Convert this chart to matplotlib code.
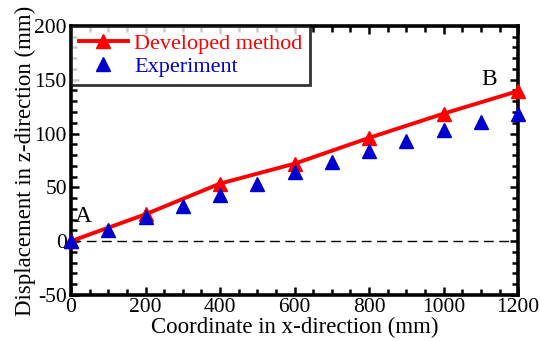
import matplotlib
matplotlib.use("Agg")
import matplotlib.pyplot as plt
from matplotlib.ticker import MultipleLocator

plt.rcParams['font.family'] = ['Liberation Serif', 'DejaVu Serif']
plt.rcParams['axes.unicode_minus'] = False

dev_x = [0, 200, 400, 600, 800, 1000, 1200]
dev_y = [0, 25, 53.5, 72, 96, 118.5, 139.5]
exp_x = [0, 100, 200, 300, 400, 500, 600, 700, 800, 900, 1000, 1100, 1200]
exp_y = [0, 10, 22.5, 33, 42.5, 53.5, 64.5, 73.5, 83.5, 93.5, 103, 111, 118.5]

fig = plt.figure(figsize=(5.4, 3.41), dpi=100)
ax = fig.add_axes([0.1315, 0.135, 0.828, 0.789])

ax.axhline(0, color='black', lw=1.0, ls=(0, (7, 4)), zorder=1)
ax.plot(dev_x, dev_y, color='#ff0000', lw=2.8, marker='^', ms=10,
        label='Developed method', zorder=3, clip_on=False)
ax.plot(exp_x, exp_y, ls='none', color='#0000cc', marker='^', ms=10,
        label='Experiment', zorder=4, clip_on=False)

ax.set_xlim(0, 1200)
ax.set_ylim(-50, 200)
ax.xaxis.set_major_locator(MultipleLocator(200))
ax.xaxis.set_minor_locator(MultipleLocator(50))
ax.yaxis.set_major_locator(MultipleLocator(50))
ax.yaxis.set_minor_locator(MultipleLocator(10))
ax.tick_params(which='both', direction='in', top=True, right=True, width=1.8,
               labelsize=15.5)
ax.tick_params(axis='x', pad=2)
ax.tick_params(axis='y', pad=3)
ax.tick_params(which='major', length=6)
ax.tick_params(which='minor', length=4)
for s in ax.spines.values():
    s.set_linewidth(2.6)

ax.set_xlabel('Coordinate in x-direction (mm)', fontsize=16.5, labelpad=0)
ax.set_ylabel('Displacement in z-direction (mm)', fontsize=16.5, labelpad=-1)

ax.text(32, 23, 'A', fontsize=17, ha='center', va='center')
ax.text(1122, 150, 'B', fontsize=17, ha='center', va='center')

leg = ax.legend(loc='upper left', fontsize=16, frameon=True, fancybox=False,
                edgecolor='black', handlelength=2.2, borderpad=0.35,
                labelspacing=0.1, handletextpad=0.3, borderaxespad=0.0)
leg.get_frame().set_linewidth(2.0)
for t, c in zip(leg.get_texts(), ['#ff0000', '#0000cc']):
    t.set_color(c)

fig.savefig('out.png', dpi=100)
